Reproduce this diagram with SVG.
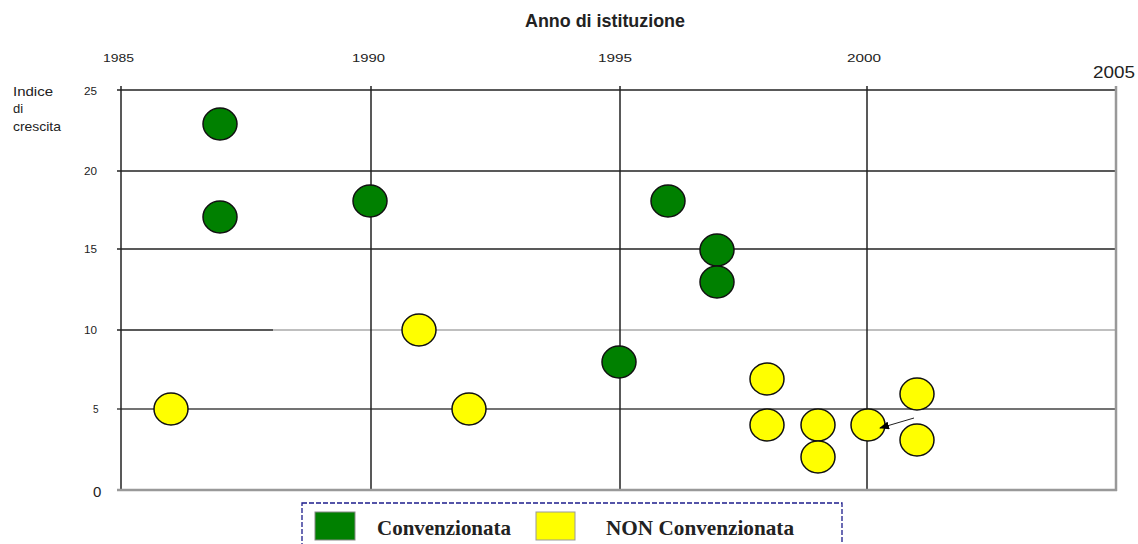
<svg xmlns="http://www.w3.org/2000/svg" width="1138" height="544" viewBox="0 0 1138 544">
<style>
.t{font-family:"Liberation Sans",Arial,sans-serif;fill:#222}
.yr{font-size:11px}
.lg{font-family:"Liberation Serif","Times New Roman",serif;font-weight:bold;font-size:21px;fill:#222}
.g{fill:#008000;stroke:#111;stroke-width:1.5}
.y{fill:#ffff00;stroke:#111;stroke-width:1.5}
.grid{stroke:#222;stroke-width:1.5}
</style>
<defs>
<marker id="ah" markerWidth="10" markerHeight="8" refX="9" refY="4" orient="auto" markerUnits="userSpaceOnUse">
<path d="M0,0 L10,4 L0,8 Z" fill="#000"/>
</marker>
</defs>
<rect width="1138" height="544" fill="#fff"/>
<text class="t" x="525" y="27" font-size="18.5" font-weight="bold" textLength="160" lengthAdjust="spacingAndGlyphs">Anno di istituzione</text>
<g class="t yr">
<text x="103" y="62" textLength="31" lengthAdjust="spacingAndGlyphs">1985</text>
<text x="352" y="62" textLength="33" lengthAdjust="spacingAndGlyphs">1990</text>
<text x="598" y="62" textLength="34" lengthAdjust="spacingAndGlyphs">1995</text>
<text x="847" y="62" textLength="34" lengthAdjust="spacingAndGlyphs">2000</text>
</g>
<text class="t" x="1093" y="78" font-size="16.5" textLength="42" lengthAdjust="spacingAndGlyphs">2005</text>
<g class="t" font-size="13">
<text x="13" y="96" textLength="40" lengthAdjust="spacingAndGlyphs">Indice</text>
<text x="13" y="113">di</text>
<text x="13" y="131" textLength="48" lengthAdjust="spacingAndGlyphs">crescita</text>
</g>
<g class="t" font-size="10">
<text x="84" y="95" textLength="13" lengthAdjust="spacingAndGlyphs">25</text>
<text x="84" y="175" textLength="13" lengthAdjust="spacingAndGlyphs">20</text>
<text x="84" y="253" textLength="13" lengthAdjust="spacingAndGlyphs">15</text>
<text x="84" y="334" textLength="13" lengthAdjust="spacingAndGlyphs">10</text>
<text x="93" y="413">5</text>
</g>
<text class="t" x="93" y="497" font-size="15">0</text>
<g id="grid">
<line class="grid" x1="117" y1="90" x2="1116" y2="90"/>
<line class="grid" x1="117" y1="171" x2="1116" y2="171"/>
<line class="grid" x1="117" y1="249" x2="1116" y2="249"/>
<line class="grid" x1="117" y1="330" x2="273" y2="330"/>
<line x1="273" y1="330" x2="1116" y2="330" stroke="#aaa" stroke-width="1.5"/>
<line x1="117" y1="409" x2="1116" y2="409" stroke="#444" stroke-width="1.5"/>
<line class="grid" x1="121" y1="86" x2="121" y2="490"/>
<line class="grid" x1="371" y1="86" x2="371" y2="490"/>
<line class="grid" x1="620" y1="86" x2="620" y2="490"/>
<line class="grid" x1="867" y1="86" x2="867" y2="490"/>
<line x1="1116" y1="86" x2="1116" y2="491" stroke="#999" stroke-width="2.5"/>
<line x1="117" y1="490" x2="1117" y2="490" stroke="#999" stroke-width="2.5"/>
</g>
<g id="conv">
<ellipse class="g" cx="220" cy="124" rx="17" ry="16"/>
<ellipse class="g" cx="220" cy="217" rx="17" ry="16"/>
<ellipse class="g" cx="370" cy="201" rx="17" ry="16"/>
<ellipse class="g" cx="668" cy="201" rx="17" ry="16"/>
<ellipse class="g" cx="717" cy="250" rx="17" ry="16"/>
<ellipse class="g" cx="717" cy="282" rx="17" ry="16"/>
<ellipse class="g" cx="619" cy="362" rx="17" ry="16"/>
</g>
<g id="nonconv">
<ellipse class="y" cx="171" cy="409" rx="17" ry="16"/>
<ellipse class="y" cx="419" cy="330" rx="17" ry="16"/>
<ellipse class="y" cx="469" cy="409" rx="17" ry="16"/>
<ellipse class="y" cx="767" cy="379" rx="17" ry="16"/>
<ellipse class="y" cx="767" cy="425" rx="17" ry="16"/>
<ellipse class="y" cx="818" cy="425" rx="17" ry="16"/>
<ellipse class="y" cx="818" cy="457" rx="17" ry="16"/>
<ellipse class="y" cx="868" cy="425" rx="17" ry="16"/>
<ellipse class="y" cx="917" cy="394" rx="17" ry="16"/>
<ellipse class="y" cx="917" cy="440" rx="17" ry="16"/>
</g>
<g id="connectors">
<line x1="914" y1="418" x2="880" y2="428" stroke="#222" stroke-width="1" marker-end="url(#ah)"/>
</g>
<g id="legend">
<rect x="302" y="503" width="540" height="60" fill="none" stroke="#1c1c8c" stroke-width="1.3" stroke-dasharray="5,2"/>
<rect x="315" y="512" width="40" height="28" fill="#008000" stroke="#888" stroke-width="1"/>
<text class="lg" x="377" y="535" textLength="134" lengthAdjust="spacingAndGlyphs">Convenzionata</text>
<rect x="536" y="512" width="39" height="28" fill="#ffff00" stroke="#999" stroke-width="1"/>
<text class="lg" x="606" y="535" textLength="188" lengthAdjust="spacingAndGlyphs">NON Convenzionata</text>
</g>
</svg>
